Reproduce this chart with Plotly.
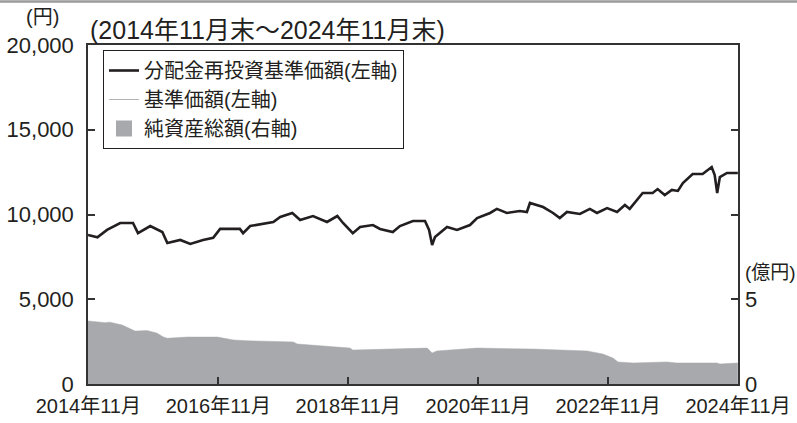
import plotly.graph_objects as go

# ---- data ----
nav_dates = [
    "2014-11-28", "2015-01-20", "2015-03-15", "2015-05-28", "2015-08-08", "2015-09-05",
    "2015-11-13", "2016-01-20", "2016-02-17", "2016-04-30", "2016-06-25", "2016-09-05",
    "2016-11-01", "2016-12-10", "2017-03-31", "2017-04-18", "2017-05-28", "2017-08-08",
    "2017-10-05", "2017-11-13", "2018-01-20", "2018-03-05", "2018-05-16", "2018-08-03",
    "2018-09-30", "2018-11-01", "2018-12-26", "2019-02-05", "2019-04-18", "2019-05-28",
    "2019-08-08", "2019-09-17", "2019-11-29", "2020-02-05", "2020-02-28", "2020-03-16",
    "2020-04-01", "2020-06-08", "2020-08-03", "2020-10-15", "2020-11-24", "2021-02-05",
    "2021-03-15", "2021-05-10", "2021-07-22", "2021-08-31", "2021-09-17", "2021-11-30",
    "2022-01-25", "2022-03-04", "2022-04-13", "2022-06-25", "2022-08-20", "2022-09-29",
    "2022-11-25", "2023-01-20", "2023-03-05", "2023-04-01", "2023-06-13", "2023-08-08",
    "2023-09-05", "2023-10-15", "2023-11-24", "2023-12-28", "2024-01-25", "2024-03-20",
    "2024-05-15", "2024-07-05", "2024-07-22", "2024-08-05", "2024-08-20", "2024-09-29",
    "2024-11-29",
]
nav_reinvested = [
    8790, 8650, 9090, 9500, 9500, 8900,
    9320, 8970, 8320, 8500, 8260, 8500,
    8620, 9150, 9150, 8900, 9320, 9440,
    9560, 9850, 10090, 9680, 9910, 9560,
    9910, 9500, 8900, 9260, 9380, 9150,
    8970, 9320, 9620, 9620, 9090, 8200,
    8670, 9260, 9090, 9380, 9790, 10090,
    10330, 10090, 10210, 10150, 10680, 10440,
    10090, 9790, 10150, 10030, 10330, 10090,
    10380, 10150, 10560, 10330, 11270, 11270,
    11500, 11150, 11450, 11390, 11860, 12390,
    12390, 12800, 12330, 11270, 12210, 12450,
    12450,
]
nav_price = list(nav_reinvested)  # no distributions: same path

asset_dates = [
    "2014-11-28", "2015-03-04", "2015-03-31", "2015-06-08", "2015-08-20", "2015-10-27",
    "2015-12-22", "2016-01-25", "2016-02-17", "2016-06-08", "2016-11-25", "2017-02-22",
    "2017-05-10", "2018-01-25", "2018-02-17", "2018-06-25", "2018-12-10", "2018-12-26",
    "2019-09-17", "2020-02-17", "2020-03-16", "2020-04-12", "2020-11-24", "2021-10-05",
    "2022-08-03", "2022-11-01", "2022-12-28", "2023-01-25", "2023-04-20", "2023-10-27",
    "2023-12-22", "2024-08-05", "2024-08-20", "2024-11-29",
]
net_assets = [
    3.72, 3.62, 3.65, 3.48, 3.12, 3.15,
    3.00, 2.78, 2.70, 2.77, 2.77, 2.60,
    2.55, 2.48, 2.36, 2.24, 2.12, 2.00,
    2.06, 2.12, 1.83, 1.95, 2.12, 2.06,
    1.95, 1.77, 1.53, 1.30, 1.24, 1.30,
    1.24, 1.24, 1.18, 1.24,
]

x_tick_vals = ["2014-11-30", "2016-11-30", "2018-11-30", "2020-11-30", "2022-11-30", "2024-11-30"]
x_tick_text = ["2014年11月", "2016年11月", "2018年11月", "2020年11月", "2022年11月", "2024年11月"]
y_tick_vals = [0, 5000, 10000, 15000, 20000]
y2_tick_vals = [0, 5]

FONT = "Liberation Sans, Arial, Noto Sans CJK JP, sans-serif"
INK = "#231f20"
AREA = "#a7a9ac"

fig = go.Figure()
# area (right axis)
fig.add_trace(go.Scatter(
    x=asset_dates, y=net_assets, name="純資産総額(右軸)", showlegend=False,
    mode="lines", line=dict(color=AREA, width=0.5), fill="tozeroy",
    fillcolor=AREA, yaxis="y2", hoverinfo="skip"))
# legend swatch for the area
fig.add_trace(go.Scatter(
    x=[None], y=[None], name="純資産総額(右軸)", legendrank=3,
    mode="markers", marker=dict(symbol="square", size=17, color=AREA), yaxis="y2"))
# base price (drawn below)
fig.add_trace(go.Scatter(
    x=nav_dates, y=nav_price, name="基準価額(左軸)", legendrank=2,
    mode="lines", line=dict(color="#b4b4b4", width=1), yaxis="y", hoverinfo="skip"))
# reinvested NAV (drawn on top)
fig.add_trace(go.Scatter(
    x=nav_dates, y=nav_reinvested, name="分配金再投資基準価額(左軸)", legendrank=1,
    mode="lines", line=dict(color=INK, width=2.6), yaxis="y", hoverinfo="skip"))

fig.update_layout(
    width=797, height=423,
    margin=dict(l=88, r=59, t=45, b=39),
    paper_bgcolor="white", plot_bgcolor="white",
    font=dict(family=FONT, size=20, color=INK),
    showlegend=True,
    legend=dict(
        x=15 / 650, y=1 - 5 / 339, xanchor="left", yanchor="top",
        bgcolor="white", bordercolor=INK, borderwidth=1,
        font=dict(size=20, color=INK), tracegroupgap=0, itemwidth=30,
    ),
    xaxis=dict(
        type="date", range=["2014-11-28", "2024-11-30"],
        tickvals=x_tick_vals, ticktext=x_tick_text,
        ticks="inside", ticklen=7, tickcolor="#333", tickwidth=1.5,
        showline=True, linecolor="#333", linewidth=1.5, mirror=True,
        showgrid=False, zeroline=False, ticklabelstandoff=3,
        tickfont=dict(size=20), automargin=False,
    ),
    yaxis=dict(
        range=[0, 20000], tickvals=y_tick_vals, tickformat=",",
        ticks="inside", ticklen=7, tickcolor="#333", tickwidth=1.5,
        showline=True, linecolor="#333", linewidth=1.5, mirror="ticks",
        showgrid=False, zeroline=False, ticklabelstandoff=8,
        tickfont=dict(size=22), automargin=False,
    ),
    yaxis2=dict(
        overlaying="y", side="right", anchor="x",
        range=[0, 20], tickvals=y2_tick_vals, ticks="",
        showline=False, showgrid=False, zeroline=False,
        ticklabelstandoff=6, tickfont=dict(size=22), automargin=False,
    ),
)

fig.add_annotation(
    text="(2014年11月末～2024年11月末)", xref="paper", yref="paper",
    x=0.0, y=1 + 15 / 339, xanchor="left", yanchor="middle",
    showarrow=False, font=dict(size=25, color=INK))
fig.add_annotation(
    text="(円)", xref="paper", yref="paper",
    x=(42 - 88) / 650, y=1 + 28 / 339, xanchor="center", yanchor="middle",
    showarrow=False, font=dict(size=20, color=INK))
fig.add_annotation(
    text="(億円)", xref="paper", yref="paper",
    x=1 + 59 / 650, y=(384 - 272) / 339, xanchor="right", yanchor="middle",
    showarrow=False, font=dict(size=19, color=INK), borderpad=0)
fig.add_shape(
    type="line", xref="paper", yref="paper",
    x0=-88 / 650, x1=1 + 59 / 650, y0=1 + 43.5 / 339, y1=1 + 43.5 / 339,
    line=dict(color="#9a9a9a", width=2.5))

fig.write_html(
    "out.html",
    config={"displayModeBar": False},
    post_script="document.body.style.margin='0';document.body.style.overflow='hidden';",
)
